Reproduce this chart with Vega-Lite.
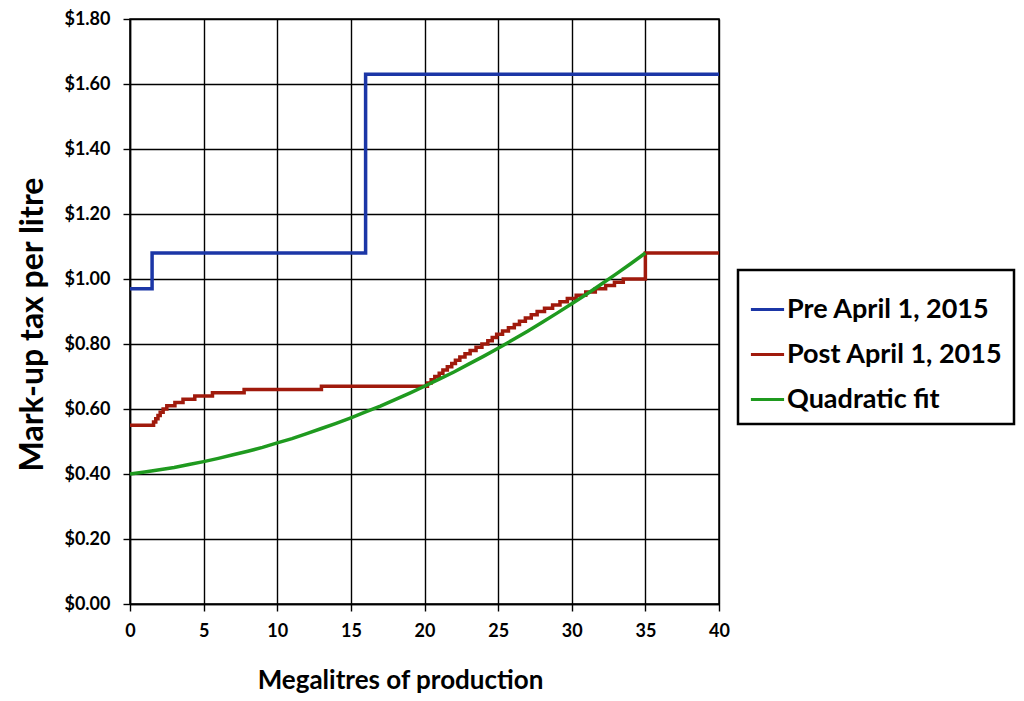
{
  "$schema": "https://vega.github.io/schema/vega-lite/v6.json",
  "autosize": "none",
  "width": 589,
  "height": 585,
  "padding": {"left": 130, "top": 19, "right": 305, "bottom": 97},
  "background": "white",
  "config": {
    "font": "Lato",
    "view": {"stroke": "black", "strokeWidth": 1.5},
    "axis": {
      "labelFont": "Lato", "labelFontWeight": "bold", "labelFontSize": 18, "labelColor": "black",
      "titleFont": "Lato", "titleFontWeight": "bold", "titleFontSize": 26, "titleColor": "black",
      "gridColor": "black", "gridOpacity": 1, "gridWidth": 1.4,
      "domainColor": "black", "domainWidth": 1.5,
      "tickColor": "black", "tickWidth": 1.4, "tickSize": 7
    },
    "legend": {
      "labelFont": "Lato", "labelFontWeight": "bold", "labelFontSize": 27, "labelColor": "black"
    }
  },
  "datasets": {
    "steps": [
      {"x": 0, "y": 0.97, "s": "Pre April 1, 2015"},
      {"x": 1.5, "y": 1.08, "s": "Pre April 1, 2015"},
      {"x": 16, "y": 1.63, "s": "Pre April 1, 2015"},
      {"x": 40, "y": 1.63, "s": "Pre April 1, 2015"},
      {"x": 0, "y": 0.55, "s": "Post April 1, 2015"},
      {"x": 1.6, "y": 0.56, "s": "Post April 1, 2015"},
      {"x": 1.75, "y": 0.57, "s": "Post April 1, 2015"},
      {"x": 1.9, "y": 0.58, "s": "Post April 1, 2015"},
      {"x": 2.05, "y": 0.59, "s": "Post April 1, 2015"},
      {"x": 2.25, "y": 0.60, "s": "Post April 1, 2015"},
      {"x": 2.5, "y": 0.61, "s": "Post April 1, 2015"},
      {"x": 3.05, "y": 0.62, "s": "Post April 1, 2015"},
      {"x": 3.6, "y": 0.63, "s": "Post April 1, 2015"},
      {"x": 4.4, "y": 0.64, "s": "Post April 1, 2015"},
      {"x": 5.6, "y": 0.65, "s": "Post April 1, 2015"},
      {"x": 7.75, "y": 0.66, "s": "Post April 1, 2015"},
      {"x": 13, "y": 0.67, "s": "Post April 1, 2015"},
      {"x": 20.2, "y": 0.68, "s": "Post April 1, 2015"},
      {"x": 20.45, "y": 0.69, "s": "Post April 1, 2015"},
      {"x": 20.7, "y": 0.70, "s": "Post April 1, 2015"},
      {"x": 21.0, "y": 0.71, "s": "Post April 1, 2015"},
      {"x": 21.25, "y": 0.72, "s": "Post April 1, 2015"},
      {"x": 21.55, "y": 0.73, "s": "Post April 1, 2015"},
      {"x": 21.85, "y": 0.74, "s": "Post April 1, 2015"},
      {"x": 22.1, "y": 0.75, "s": "Post April 1, 2015"},
      {"x": 22.4, "y": 0.76, "s": "Post April 1, 2015"},
      {"x": 22.75, "y": 0.77, "s": "Post April 1, 2015"},
      {"x": 23.1, "y": 0.78, "s": "Post April 1, 2015"},
      {"x": 23.5, "y": 0.79, "s": "Post April 1, 2015"},
      {"x": 23.9, "y": 0.80, "s": "Post April 1, 2015"},
      {"x": 24.3, "y": 0.81, "s": "Post April 1, 2015"},
      {"x": 24.6, "y": 0.82, "s": "Post April 1, 2015"},
      {"x": 24.9, "y": 0.83, "s": "Post April 1, 2015"},
      {"x": 25.3, "y": 0.84, "s": "Post April 1, 2015"},
      {"x": 25.7, "y": 0.85, "s": "Post April 1, 2015"},
      {"x": 26.1, "y": 0.86, "s": "Post April 1, 2015"},
      {"x": 26.45, "y": 0.87, "s": "Post April 1, 2015"},
      {"x": 26.85, "y": 0.88, "s": "Post April 1, 2015"},
      {"x": 27.25, "y": 0.89, "s": "Post April 1, 2015"},
      {"x": 27.65, "y": 0.90, "s": "Post April 1, 2015"},
      {"x": 28.15, "y": 0.91, "s": "Post April 1, 2015"},
      {"x": 28.7, "y": 0.92, "s": "Post April 1, 2015"},
      {"x": 29.2, "y": 0.93, "s": "Post April 1, 2015"},
      {"x": 29.7, "y": 0.94, "s": "Post April 1, 2015"},
      {"x": 30.3, "y": 0.95, "s": "Post April 1, 2015"},
      {"x": 30.95, "y": 0.96, "s": "Post April 1, 2015"},
      {"x": 31.6, "y": 0.97, "s": "Post April 1, 2015"},
      {"x": 32.3, "y": 0.98, "s": "Post April 1, 2015"},
      {"x": 32.9, "y": 0.99, "s": "Post April 1, 2015"},
      {"x": 33.5, "y": 1.00, "s": "Post April 1, 2015"},
      {"x": 35.0, "y": 1.08, "s": "Post April 1, 2015"},
      {"x": 40, "y": 1.08, "s": "Post April 1, 2015"}
    ],
    "fit": [
      {"x": 0, "y": 0.400, "s": "Quadratic fit"},
      {"x": 1, "y": 0.406, "s": "Quadratic fit"},
      {"x": 2, "y": 0.413, "s": "Quadratic fit"},
      {"x": 3, "y": 0.420, "s": "Quadratic fit"},
      {"x": 4, "y": 0.429, "s": "Quadratic fit"},
      {"x": 5, "y": 0.438, "s": "Quadratic fit"},
      {"x": 6, "y": 0.448, "s": "Quadratic fit"},
      {"x": 7, "y": 0.459, "s": "Quadratic fit"},
      {"x": 8, "y": 0.470, "s": "Quadratic fit"},
      {"x": 9, "y": 0.482, "s": "Quadratic fit"},
      {"x": 10, "y": 0.496, "s": "Quadratic fit"},
      {"x": 11, "y": 0.509, "s": "Quadratic fit"},
      {"x": 12, "y": 0.524, "s": "Quadratic fit"},
      {"x": 13, "y": 0.540, "s": "Quadratic fit"},
      {"x": 14, "y": 0.556, "s": "Quadratic fit"},
      {"x": 15, "y": 0.573, "s": "Quadratic fit"},
      {"x": 16, "y": 0.591, "s": "Quadratic fit"},
      {"x": 17, "y": 0.609, "s": "Quadratic fit"},
      {"x": 18, "y": 0.629, "s": "Quadratic fit"},
      {"x": 19, "y": 0.649, "s": "Quadratic fit"},
      {"x": 20, "y": 0.670, "s": "Quadratic fit"},
      {"x": 21, "y": 0.692, "s": "Quadratic fit"},
      {"x": 22, "y": 0.714, "s": "Quadratic fit"},
      {"x": 23, "y": 0.738, "s": "Quadratic fit"},
      {"x": 24, "y": 0.762, "s": "Quadratic fit"},
      {"x": 25, "y": 0.787, "s": "Quadratic fit"},
      {"x": 26, "y": 0.813, "s": "Quadratic fit"},
      {"x": 27, "y": 0.839, "s": "Quadratic fit"},
      {"x": 28, "y": 0.867, "s": "Quadratic fit"},
      {"x": 29, "y": 0.895, "s": "Quadratic fit"},
      {"x": 30, "y": 0.924, "s": "Quadratic fit"},
      {"x": 31, "y": 0.953, "s": "Quadratic fit"},
      {"x": 32, "y": 0.984, "s": "Quadratic fit"},
      {"x": 33, "y": 1.015, "s": "Quadratic fit"},
      {"x": 34, "y": 1.047, "s": "Quadratic fit"},
      {"x": 35, "y": 1.080, "s": "Quadratic fit"}
    ]
  },
  "encoding": {
    "x": {
      "field": "x", "type": "quantitative",
      "scale": {"domain": [0, 40], "nice": false},
      "axis": {"values": [0, 5, 10, 15, 20, 25, 30, 35, 40], "title": "Megalitres of production", "titleX": 270, "labelPadding": 11, "titlePadding": 27, "labelFlush": false}
    },
    "y": {
      "field": "y", "type": "quantitative",
      "scale": {"domain": [0, 1.8], "nice": false},
      "axis": {"values": [0, 0.2, 0.4, 0.6, 0.8, 1.0, 1.2, 1.4, 1.6, 1.8], "format": "$.2f", "title": "Mark-up tax per litre", "titleFontSize": 32, "titleY": 305, "labelPadding": 13, "titlePadding": 14, "labelFlush": false}
    },
    "color": {
      "field": "s", "type": "nominal",
      "scale": {"domain": ["Pre April 1, 2015", "Post April 1, 2015", "Quadratic fit"], "range": ["#1b36a6", "#a01a0c", "#1f9a1f"]},
      "legend": {
        "title": " ", "titleFontSize": 10, "titlePadding": 0, "orient": "none", "legendX": 608, "legendY": 251,
        "strokeColor": "black", "fillColor": "white",
        "padding": 11, "rowPadding": 13, "symbolType": "stroke", "symbolSize": 1100,
        "symbolStrokeWidth": 3, "labelOffset": 1, "labelLimit": 400,
        "encode": {"legend": {"update": {"strokeWidth": {"value": 2.5}}}}
      }
    }
  },
  "layer": [
    {
      "data": {"name": "steps"},
      "mark": {"type": "line", "interpolate": "step-after", "strokeWidth": 3.5}
    },
    {
      "data": {"name": "fit"},
      "mark": {"type": "line", "strokeWidth": 3.5}
    }
  ]
}
